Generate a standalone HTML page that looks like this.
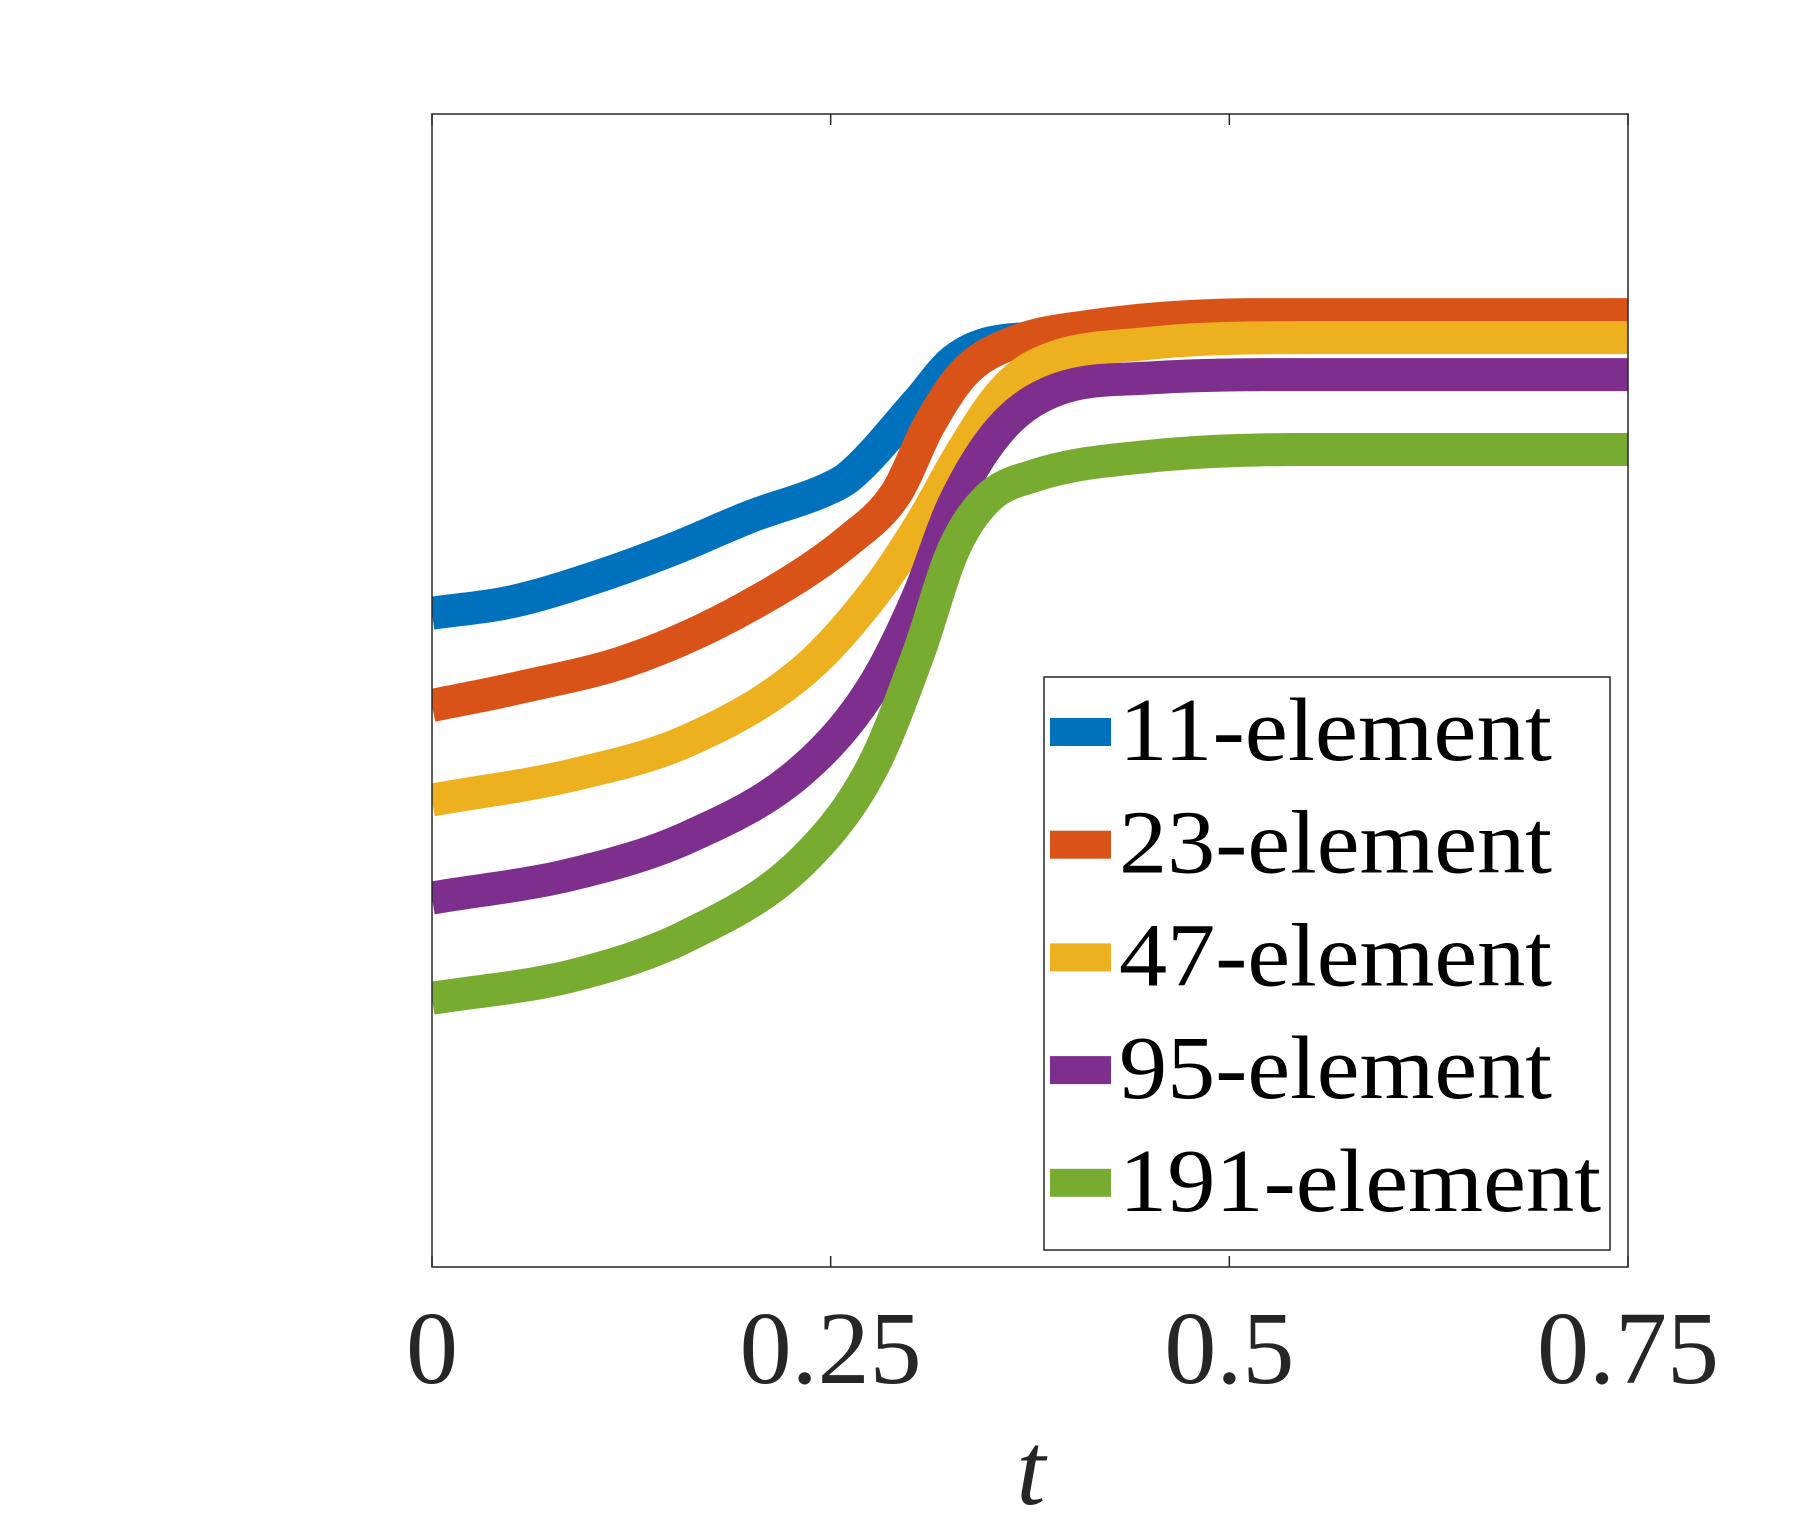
<!DOCTYPE html>
<html><head><meta charset="utf-8"><style>
html,body{margin:0;padding:0;background:#fff;}
svg{display:block;}
</style></head><body>
<svg id="chart" width="1800" height="1520" xmlns="http://www.w3.org/2000/svg">
<rect x="0" y="0" width="1800" height="1520" fill="#fff"/>
<g id="plot"></g>
</svg>
<script>
const xTicks = [0, 0.25, 0.5, 0.75];
const xTickLabels = ["0", "0.25", "0.5", "0.75"];
const seriesNames = ["11-element", "23-element", "47-element", "95-element", "191-element"];
const seriesColors = ["#0072BD", "#D95319", "#EDB120", "#7E2F8E", "#77AC30"];
const t11 = [0,0.05,0.1,0.15,0.2,0.25,0.262,0.305,0.327,0.356,0.4,0.5,0.75];
const v11 = [0.567,0.577,0.597,0.622,0.651,0.676,0.686,0.751,0.786,0.803,0.806,0.807,0.807];
const t23 = [0,0.053,0.125,0.197,0.262,0.291,0.312,0.334,0.363,0.413,0.52,0.75];
const v23 = [0.487,0.502,0.527,0.572,0.631,0.671,0.731,0.776,0.801,0.816,0.826,0.826];
const t47 = [0,0.089,0.161,0.233,0.276,0.305,0.334,0.356,0.377,0.449,0.55,0.75];
const v47 = [0.405,0.427,0.457,0.517,0.582,0.641,0.711,0.756,0.781,0.801,0.806,0.806];
const t95 = [0,0.089,0.161,0.233,0.276,0.305,0.327,0.356,0.392,0.449,0.55,0.75];
const v95 = [0.320,0.341,0.373,0.432,0.502,0.582,0.661,0.726,0.761,0.771,0.774,0.774];
const t191 = [0,0.089,0.161,0.233,0.276,0.305,0.327,0.348,0.377,0.449,0.55,0.75];
const v191 = [0.233,0.253,0.288,0.353,0.433,0.532,0.622,0.666,0.686,0.703,0.709,0.709];
const seriesT = [t11, t23, t47, t95, t191];
const seriesV = [v11, v23, v47, v95, v191];

const NS = "http://www.w3.org/2000/svg";
const L = 432, R = 1628, T = 114, B = 1267;
const X = t => L + (t - 0) / 0.75 * (R - L);
const Y = v => B - v * (B - T);
const g = document.getElementById('plot');
function mk(tag, attrs, parent) {
  const e = document.createElementNS(NS, tag);
  for (const k in attrs) e.setAttribute(k, attrs[k]);
  (parent || g).appendChild(e);
  return e;
}
const defs = mk('defs', {});
const cp = mk('clipPath', {id: 'clip'}, defs);
mk('rect', {x: L, y: T, width: R - L, height: B - T}, cp);

// monotone cubic interpolation in t
function monotonePath(xs, ys) {
  const n = xs.length, d = [], m = new Array(n);
  for (let i = 0; i < n - 1; i++) d.push((ys[i+1]-ys[i])/(xs[i+1]-xs[i]));
  m[0] = d[0]; m[n-1] = d[n-2];
  for (let i = 1; i < n - 1; i++) m[i] = (d[i-1]*d[i] <= 0) ? 0 : (d[i-1]+d[i])/2;
  for (let i = 0; i < n - 1; i++) {
    if (d[i] === 0) { m[i] = 0; m[i+1] = 0; continue; }
    const a = m[i]/d[i], b = m[i+1]/d[i], s = a*a + b*b;
    if (s > 9) { const tau = 3/Math.sqrt(s); m[i] = tau*a*d[i]; m[i+1] = tau*b*d[i]; }
  }
  let path = '';
  for (let i = 0; i < n - 1; i++) {
    const h = xs[i+1]-xs[i];
    for (let k = 0; k <= 20; k++) {
      if (i > 0 && k === 0) continue;
      const s = k/20, s2 = s*s, s3 = s2*s;
      const y = (2*s3-3*s2+1)*ys[i] + (s3-2*s2+s)*h*m[i] + (-2*s3+3*s2)*ys[i+1] + (s3-s2)*h*m[i+1];
      const x = xs[i] + s*h;
      path += (path ? ' L' : 'M') + X(x).toFixed(2) + ',' + Y(y).toFixed(2);
    }
  }
  return path;
}
const lines = mk('g', {'clip-path': 'url(#clip)'});


for (let s = 0; s < seriesNames.length; s++) {
  const p = mk('path', {d: monotonePath(seriesT[s], seriesV[s]), fill: 'none', stroke: seriesColors[s], 'stroke-width': 33, 'stroke-linejoin': 'round'}, lines);
  
  
}
const box = mk('rect', {x: L, y: T, width: R - L, height: B - T, fill: 'none', stroke: '#262626', 'stroke-width': 1.5});


xTicks.forEach((t, i) => {
  const x = X(t);
  const tk1 = mk('line', {x1: x, x2: x, y1: B, y2: B - 11, stroke: '#262626', 'stroke-width': 1.5});
  
  
  const tk2 = mk('line', {x1: x, x2: x, y1: T, y2: T + 11, stroke: '#262626', 'stroke-width': 1.5});
  
  
  const tx = mk('text', {x: x, y: 1383, 'text-anchor': 'middle', 'font-family': '"Liberation Serif", serif', 'font-size': 104, fill: '#262626'});
  tx.textContent = xTickLabels[i];
  
  
});
const xt = mk('text', {x: 1031, y: 1504, 'text-anchor': 'middle', 'font-family': '"Liberation Serif", serif', 'font-style': 'italic', 'font-size': 104, fill: '#262626'});
xt.textContent = 't';


const lg = mk('g', {});


mk('rect', {x: 1044, y: 677, width: 566, height: 573, fill: '#fff', stroke: '#262626', 'stroke-width': 1.5}, lg);
const widths = [433, 433, 433, 433, 482];
for (let s = 0; s < seriesNames.length; s++) {
  const by = 760 + s * 112.7;
  const e = mk('g', {}, lg);
  
  
  mk('rect', {x: 1050, y: by - 42, width: 61, height: 28, fill: seriesColors[s]}, e);
  const tx = mk('text', {x: 1119, y: by, 'font-family': '"Liberation Serif", serif', 'font-size': 90, fill: '#000', textLength: widths[s], lengthAdjust: 'spacingAndGlyphs'}, e);
  tx.textContent = seriesNames[s];
}
</script>
</body></html>
